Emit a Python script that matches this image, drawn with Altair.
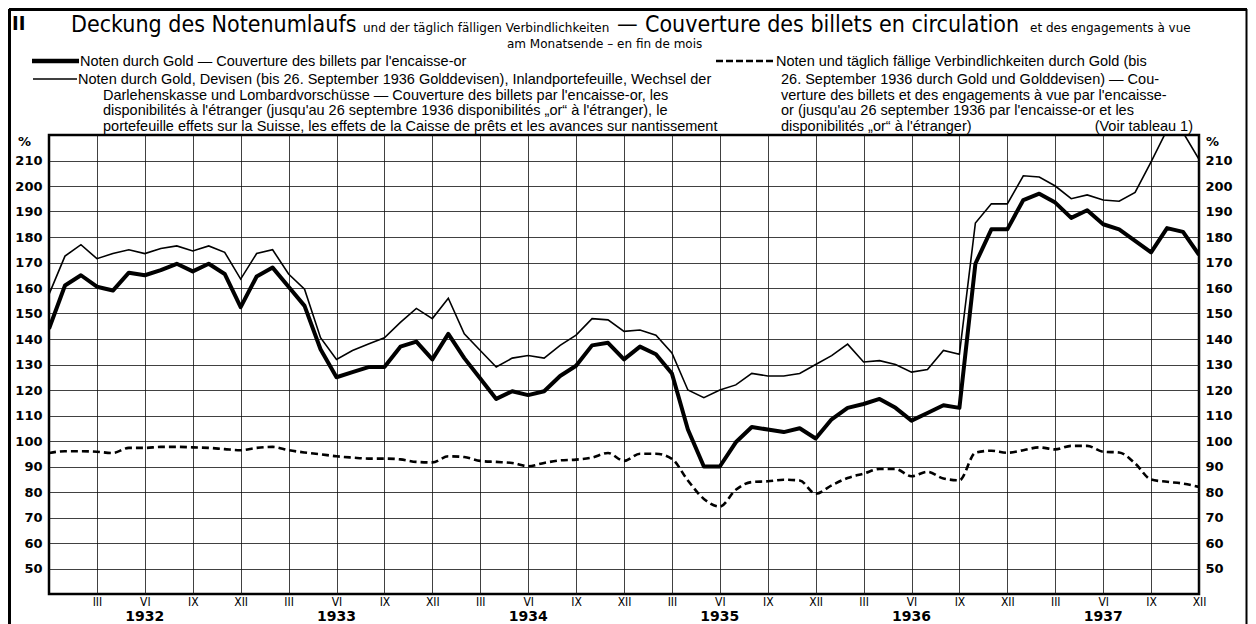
import altair as alt
import pandas as pd

# ---------------- data (month-end values, Dec 1931 = index 0 ... Dec 1937 = index 72)
month_index = list(range(73))

gold_notes = [
    144, 161, 165, 160.5, 159, 166, 165, 167, 169.5, 166.5, 169.5, 165.5,
    152.5, 164.5, 168, 160.5, 153, 136, 125, 127, 129, 129, 137, 139,
    132, 142, 132.5, 124.5, 116.5, 119.5, 118, 119.5, 125.5, 129.5, 137.5, 138.5,
    132, 137, 134, 126.5, 104.5, 90, 90, 99.5, 105.5, 104.5, 103.5, 105,
    101, 108.5, 113, 114.5, 116.5, 113, 108, 111, 114, 113, 169.5, 183,
    183, 194.5, 197, 193.5, 187.5, 190.5, 185, 183, 178.5, 174, 183.5, 182,
    173,
]

gold_devisen_notes = [
    157.5, 172.5, 177, 171.5, 173.5, 175, 173.5, 175.5, 176.5, 174.5, 176.5, 174,
    163.5, 173.5, 175, 165.5, 159.5, 140.5, 132, 135.5, 138, 140.5, 146.5, 152,
    148, 156, 142, 135.5, 129, 132.5, 133.5, 132.5, 137.5, 141.5, 148, 147.5,
    143, 143.5, 141.5, 134.5, 120, 117, 120, 122, 126.5, 125.5, 125.5, 126.5,
    130, 133.5, 138, 131, 131.5, 130, 127, 128, 135.5, 134, 185.5, 193,
    193, 204, 203.5, 200, 195, 196.5, 194.5, 194, 197.5, 209.5, 222, 221,
    210.5,
]

gold_notes_liabilities = [
    95.3, 96, 96, 95.8, 95.3, 97.3, 97.3, 97.7, 97.7, 97.5, 97.3, 96.8,
    96.4, 97.3, 97.7, 96.4, 95.5, 94.8, 94, 93.5, 93.1, 93.1, 92.8, 91.8,
    91.6, 94, 93.7, 92.2, 91.8, 91.4, 90.1, 91.4, 92.4, 92.7, 93.5, 95.3,
    92.2, 95, 95, 93, 84.5, 77.3, 74.3, 80.9, 83.9, 84.2, 84.8, 84.5,
    79.3, 82.6, 85.5, 87.2, 89, 89, 86.2, 87.9, 85.3, 84.6, 95.4, 96.2,
    95.4, 96.4, 97.5, 96.7, 98.1, 98.1, 95.8, 95.5, 91.2, 84.9, 84, 83.3,
    82,
]

month_tick_values = list(range(3, 73, 3))
month_tick_labels = ["XII", "III", "VI", "IX"]   # by (index / 3) % 4
years = ["1932", "1933", "1934", "1935", "1936", "1937"]
year_mid_index = [6, 18, 30, 42, 54, 66]          # June of each year
y_tick_values = list(range(50, 220, 10))

title_big_1 = "Deckung des Notenumlaufs"
title_small_1 = "und der täglich fälligen Verbindlichkeiten"
title_dash = "—"
title_big_2 = "Couverture des billets en circulation"
title_small_2 = "et des engagements à vue"
subtitle = "am Monatsende – en fin de mois"
legend_thick = "Noten durch Gold — Couverture des billets par l'encaisse-or"
legend_thin = [
    "Noten durch Gold, Devisen (bis 26. September 1936 Golddevisen), Inlandportefeuille, Wechsel der",
    "Darlehenskasse und Lombardvorschüsse — Couverture des billets par l'encaisse-or, les",
    "disponibilités à l'étranger (jusqu'au 26 septembre 1936 disponibilités „or“ à l'étranger), le",
    "portefeuille effets sur la Suisse, les effets de la Caisse de prêts et les avances sur nantissement",
]
legend_dash = [
    "Noten und täglich fällige Verbindlichkeiten durch Gold (bis",
    "26. September 1936 durch Gold und Golddevisen) — Cou-",
    "verture des billets et des engagements à vue par l'encaisse-",
    "or (jusqu'au 26 september 1936 par l'encaisse-or et les",
    "disponibilités „or“ à l'étranger)",
]
legend_ref = "(Voir tableau 1)"

# ---------------- layout
W, H = 1150, 459
OX, OY = 49, 135          # plot origin on the page (for decoration placement)

df = pd.DataFrame({
    "m": month_index,
    "thick": gold_notes,
    "thin": gold_devisen_notes,
    "dash": gold_notes_liabilities,
})
years_df = pd.DataFrame({"year": years, "pos": year_mid_index})

xscale = alt.Scale(domain=[0, 72], nice=False, zero=False)
yscale = alt.Scale(domain=[40, 220], nice=False, zero=False)

label_expr = "[" + ",".join("'%s'" % s for s in month_tick_labels) + "][round(datum.value / 3) % 4]"

x_axis = alt.Axis(
    values=month_tick_values, labelExpr=label_expr, grid=True,
    gridColor="#111", gridWidth=1, gridOpacity=0.8, ticks=False, domain=False,
    labelFont="DejaVu Sans Condensed", labelFontSize=12, labelColor="black",
    labelPadding=2, labelFlush=False, labelOverlap=False, title=None,
)
y_axis_left = alt.Axis(
    values=y_tick_values, grid=True, gridColor="#111", gridWidth=1, gridOpacity=0.8,
    ticks=False, domain=False, labelFont="DejaVu Sans", labelFontWeight="bold",
    labelFontSize=13, labelColor="black", labelPadding=7, title=None, orient="left",
)
y_axis_right = alt.Axis(
    values=y_tick_values, grid=False, ticks=False, domain=False,
    labelFont="DejaVu Sans", labelFontWeight="bold", labelFontSize=13,
    labelColor="black", labelPadding=6, labelAlign="left", title=None, orient="right",
)


def X(ax=None):
    return alt.X("m:Q", scale=xscale, axis=ax)


thick = alt.Chart(df).mark_line(color="black", strokeWidth=4, clip=True, strokeJoin="round").encode(
    x=X(x_axis), y=alt.Y("thick:Q", scale=yscale, axis=y_axis_left))
thin = alt.Chart(df).mark_line(color="black", strokeWidth=1.6, clip=True).encode(
    x=X(), y=alt.Y("thin:Q", scale=yscale, axis=None))
dashed = alt.Chart(df).mark_line(color="black", strokeWidth=2.6, strokeDash=[7, 4],
                                 interpolate="monotone", clip=True).encode(
    x=X(), y=alt.Y("dash:Q", scale=yscale, axis=None))
right_axis = alt.Chart(df).mark_line(opacity=0).encode(
    x=X(), y=alt.Y("thick:Q", scale=yscale, axis=y_axis_right))

year_text = alt.Chart(years_df).mark_text(
    font="DejaVu Sans", fontWeight="bold", fontSize=14, baseline="alphabetic", color="black"
).encode(x=alt.X("pos:Q", scale=xscale, axis=None), y=alt.value(H + 27), text="year:N")

ONE = alt.Data(values=[{}])


def txt(s, px, py, size, font="Liberation Sans", weight="normal", align="left"):
    return alt.Chart(ONE).mark_text(
        text=s, font=font, fontSize=size, fontWeight=weight, align=align,
        baseline="alphabetic", color="black",
    ).encode(x=alt.value(px - OX), y=alt.value(py - OY))


def hline(px1, px2, py, width, dash=None):
    kw = dict(color="black", strokeWidth=width)
    if dash:
        kw["strokeDash"] = dash
    return alt.Chart(ONE).mark_rule(**kw).encode(
        x=alt.value(px1 - OX), x2=alt.value(px2 - OX), y=alt.value(py - OY))


def vline(px, py1, py2, width):
    return alt.Chart(ONE).mark_rule(color="black", strokeWidth=width).encode(
        x=alt.value(px - OX), y=alt.value(py1 - OY), y2=alt.value(py2 - OY))


deco = [
    # frame
    hline(9, 1247, 9.5, 3),
    vline(9.5, 9, 624, 3),
    vline(1246.5, 9, 624, 2),
    # title row
    txt("II", 12, 30, 20, font="DejaVu Sans Condensed", weight="bold"),
    txt(title_big_1, 71, 32, 23, font="DejaVu Sans Condensed"),
    txt(title_small_1, 363, 32, 12, font="DejaVu Sans"),
    txt(title_dash, 617, 32, 23, font="DejaVu Sans Condensed"),
    txt(title_big_2, 645, 32, 23, font="DejaVu Sans Condensed"),
    txt(title_small_2, 1030, 32, 12, font="DejaVu Sans"),
    txt(subtitle, 507, 48, 12, font="DejaVu Sans"),
    # legend
    hline(32, 79, 61, 4.5),
    txt(legend_thick, 80, 66, 14.5),
    hline(33, 77, 79, 1.6),
    txt(legend_thin[0], 78, 84, 14.5),
    txt(legend_thin[1], 103, 99.5, 14.5),
    txt(legend_thin[2], 103, 115, 14.5),
    txt(legend_thin[3], 103, 130.5, 14.5),
    hline(716, 774, 61, 2.6, dash=[7, 3]),
    txt(legend_dash[0], 776, 66, 14.5),
    txt(legend_dash[1], 781, 84, 14.5),
    txt(legend_dash[2], 781, 99.5, 14.5),
    txt(legend_dash[3], 781, 115, 14.5),
    txt(legend_dash[4], 781, 130.5, 14.5),
    txt(legend_ref, 1193, 130.5, 14.5, align="right"),
    # percent signs
    txt("%", 18, 146, 13, font="DejaVu Sans", weight="bold"),
    txt("%", 1206, 146, 13, font="DejaVu Sans", weight="bold"),
]

chart = alt.layer(thick, thin, dashed, right_axis, year_text, *deco).resolve_axis(
    x="independent", y="independent"
).properties(
    width=W, height=H,
    autosize=alt.AutoSizeParams(type="none"),
    padding={"left": OX - 8, "top": OY - 8, "right": 1248 - OX - W, "bottom": 30},
    background="white",
).configure_view(stroke="black", strokeWidth=2.5)

chart.save("out.html", embed_options={"renderer": "svg", "actions": False})
